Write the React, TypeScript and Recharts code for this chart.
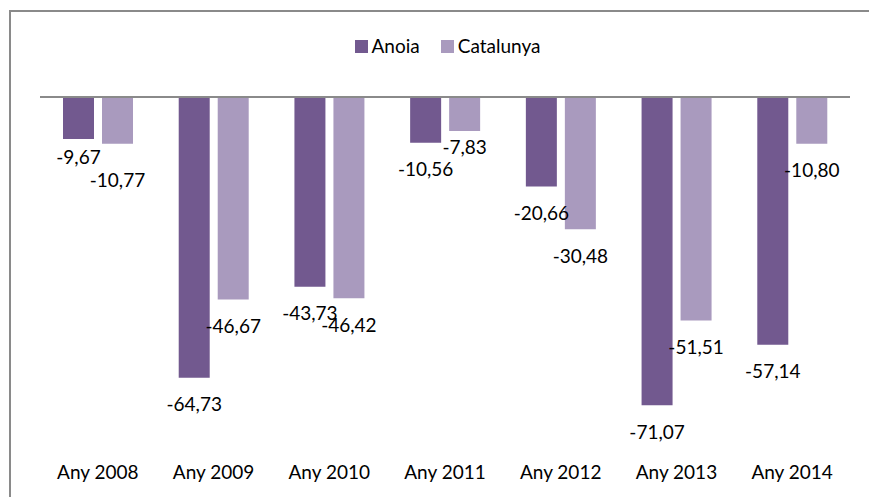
import { Bar, BarChart, LabelList, Legend, ReferenceLine, XAxis, YAxis } from 'recharts';

const years = ['Any 2008', 'Any 2009', 'Any 2010', 'Any 2011', 'Any 2012', 'Any 2013', 'Any 2014'];
const anoia = [-9.67, -64.73, -43.73, -10.56, -20.66, -71.07, -57.14];
const catalunya = [-10.77, -46.67, -46.42, -7.83, -30.48, -51.51, -10.8];

const data = years.map((year, i) => ({ year, anoia: anoia[i], catalunya: catalunya[i] }));

const COLORS = { anoia: '#72598F', catalunya: '#A99ABE', frame: '#8A8A8A' };
const FONT = 'Lato, "Liberation Sans", sans-serif';

// a few labels were dragged by hand in the original
const labelNudge: Record<string, number> = { 'anoia-0': -9, 'catalunya-0': 10, 'catalunya-3': -11 };

function makeLabel(series: string) {
  return (props: any) => {
    const { x, y, width, height, value, index } = props;
    const bottom = Math.max(Number(y), Number(y) + Number(height));
    const dy = 27 + (labelNudge[`${series}-${index}`] ?? 0);
    return (
      <text
        x={Number(x) + Number(width) / 2}
        y={bottom + dy}
        dy="0.35em"
        textAnchor="middle"
        fontFamily={FONT}
        fontSize={19}
        fill="#000"
      >
        {Number(value).toFixed(2).replace('.', ',')}
      </text>
    );
  };
}

function LegendContent() {
  const items = [
    { name: 'Anoia', color: COLORS.anoia },
    { name: 'Catalunya', color: COLORS.catalunya },
  ];
  return (
    <div style={{ display: 'flex', justifyContent: 'center', gap: 21, fontFamily: FONT, fontSize: 19, paddingLeft: 26 }}>
      {items.map((it) => (
        <div key={it.name} style={{ display: 'flex', alignItems: 'center', gap: 4 }}>
          <span style={{ width: 13, height: 13, background: it.color, display: 'inline-block' }} />
          <span style={{ color: '#000', lineHeight: '22px' }}>{it.name}</span>
        </div>
      ))}
    </div>
  );
}

export default function App() {
  return (
    <div style={{ position: 'fixed', left: 0, top: 0, width: 869, height: 497, background: '#fff', overflow: 'hidden' }}>
      <div
        style={{
          position: 'absolute',
          left: 9,
          top: 10,
          width: 1000,
          height: 1000,
          borderLeft: `2px solid ${COLORS.frame}`,
          borderTop: `2px solid ${COLORS.frame}`,
        }}
      />
      <BarChart
        width={869}
        height={497}
        data={data}
        margin={{ top: 75, right: 19, bottom: 13, left: 40 }}
        barSize={31}
        barGap={8}
        style={{ position: 'absolute', left: 0, top: 0 }}
      >
        <XAxis
          dataKey="year"
          axisLine={false}
          tickLine={false}
          height={40}
          tickMargin={16}
          tick={{ fontFamily: FONT, fontSize: 19, fill: '#000' }}
          interval={0}
        />
        <YAxis hide domain={[-80, 0]} />
        <Legend
          verticalAlign="top"
          content={<LegendContent />}
          wrapperStyle={{ position: 'absolute', top: 35, left: 0, width: 869 }}
        />
        <Bar dataKey="anoia" name="Anoia" fill={COLORS.anoia} isAnimationActive={false}>
          <LabelList dataKey="anoia" content={makeLabel('anoia')} />
        </Bar>
        <Bar dataKey="catalunya" name="Catalunya" fill={COLORS.catalunya} isAnimationActive={false}>
          <LabelList dataKey="catalunya" content={makeLabel('catalunya')} />
        </Bar>
        <ReferenceLine y={0} stroke={COLORS.frame} strokeWidth={2} />
      </BarChart>
    </div>
  );
}
